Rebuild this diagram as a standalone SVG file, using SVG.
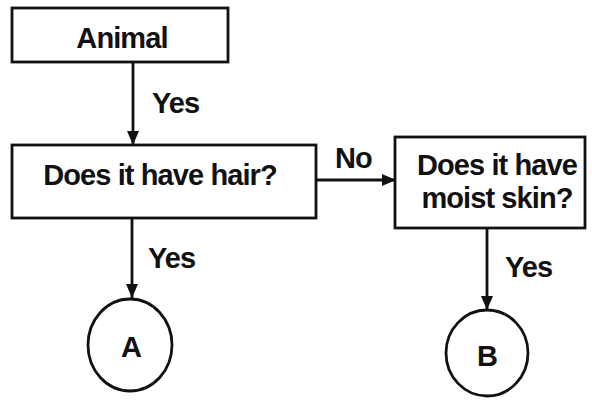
<svg xmlns="http://www.w3.org/2000/svg" width="592" height="401" viewBox="0 0 592 401">
<style>
.box{fill:#fff;stroke:#111;stroke-width:2.8}
.t{font-family:"Liberation Sans",Arial,sans-serif;font-size:29px;font-weight:bold;letter-spacing:-0.9px;fill:#111}
.c{stroke:#111;stroke-width:2.8;fill:none}
</style>
<defs>
<marker id="ah" viewBox="0 0 14 12" refX="14" refY="6" markerWidth="14" markerHeight="12" markerUnits="userSpaceOnUse" orient="auto">
<path d="M0,0 L14,6 L0,12 Z" fill="#111"/>
</marker>
</defs>
<rect width="592" height="401" fill="#fff"/>
<g id="connectors">
<line class="c" x1="133" y1="62" x2="133" y2="145" marker-end="url(#ah)"/>
<text class="t" x="152" y="113">Yes</text>
<line class="c" x1="316" y1="180" x2="396" y2="180" marker-end="url(#ah)"/>
<text class="t" x="335" y="168">No</text>
<line class="c" x1="132" y1="218" x2="132" y2="298" marker-end="url(#ah)"/>
<text class="t" x="148" y="268">Yes</text>
<line class="c" x1="487" y1="228" x2="487" y2="310" marker-end="url(#ah)"/>
<text class="t" x="505" y="277">Yes</text>
</g>
<g id="animal">
<rect class="box" x="12" y="8" width="216" height="54"/>
<text class="t" x="122" y="48" text-anchor="middle">Animal</text>
</g>
<g id="hair">
<rect class="box" x="12" y="145" width="304" height="73"/>
<text class="t" x="160" y="185" text-anchor="middle">Does it have hair?</text>
</g>
<g id="moist">
<rect class="box" x="395" y="137" width="190" height="91"/>
<text class="t" x="497" y="175" text-anchor="middle">Does it have</text>
<text class="t" x="497" y="208" text-anchor="middle">moist skin?</text>
</g>
<g id="A">
<ellipse class="box" cx="130" cy="345" rx="42" ry="46"/>
<text class="t" x="131" y="357" text-anchor="middle">A</text>
</g>
<g id="B">
<ellipse class="box" cx="487" cy="353" rx="41" ry="43"/>
<text class="t" x="487" y="366" text-anchor="middle">B</text>
</g>
</svg>
